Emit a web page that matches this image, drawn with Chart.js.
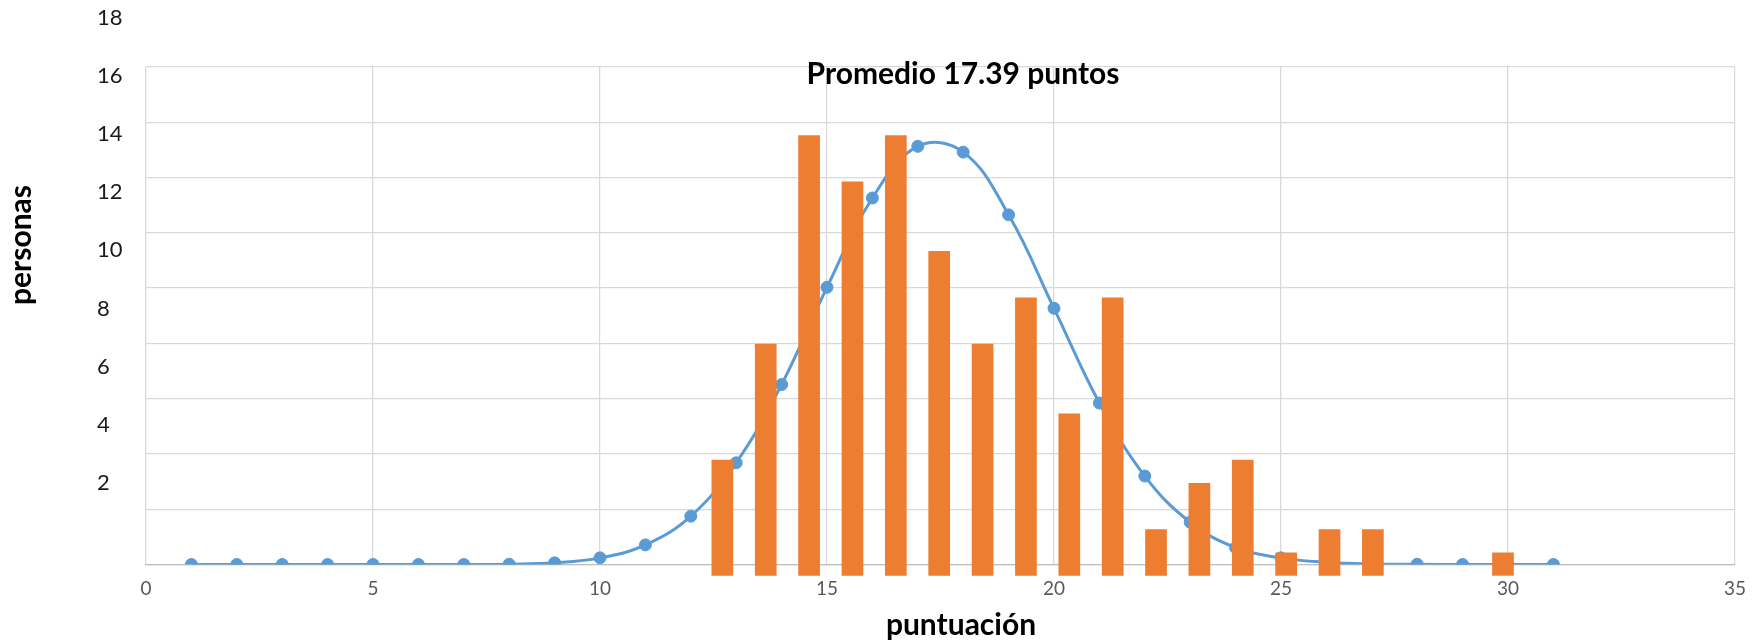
<!DOCTYPE html>
<html>
<head>
<meta charset="utf-8">
<title>Distribución de puntuaciones</title>
<script src="https://cdn.jsdelivr.net/npm/chart.js@4.4.1/dist/chart.umd.min.js"></script>
<style>
    html, body { margin: 0; padding: 0; background: #fff; }
    #wrap { width: 1763px; height: 643px; position: relative; }
</style>
</head>
<body>
<div id="wrap"><canvas id="distChart"></canvas></div>
<script>
// normal curve, one point per score
const curveScores = [1, 2, 3, 4, 5, 6, 7, 8, 9, 10, 11, 12, 13, 14, 15, 16,
    17, 18, 19, 20, 21, 22, 23, 24, 25, 26, 27, 28, 29, 30, 31];
const curveValues = [0, 0, 0, 0, 0, 0, 0, 0.0001, 0.0006, 0.0024, 0.0071, 0.0175,
    0.0368, 0.0651, 0.1003, 0.1326, 0.1513, 0.1492, 0.1265, 0.0927, 0.0584, 0.0320,
    0.0153, 0.0061, 0.0024, 0.0008, 0.0002, 0.0001, 0, 0, 0];

// people per score (histogram)
const barScores = [12, 13, 14, 15, 16, 17, 18, 19, 20, 21, 22, 23, 24, 25, 26, 27, 28, 29, 30];
const barCounts = [5, 10, 19, 17, 19, 14, 10, 12, 7, 12, 2, 4, 5, 1, 2, 2, 0, 0, 1];

// labels shown down the left side
const personTicks = [2, 4, 6, 8, 10, 12, 14, 16, 18];

const xTicks = [0, 5, 10, 15, 20, 25, 30, 35];

const BLUE = '#5B9BD5';
const ORANGE = '#ED7D31';
const GRID = '#d9d9d9';

// chart title and the two axis captions
const notes = {
    id: 'notes',
    afterDraw(chart) {
        const ctx = chart.ctx;
        ctx.save();
        ctx.fillStyle = '#000';
        ctx.textAlign = 'center';
        ctx.textBaseline = 'alphabetic';
        ctx.font = 'bold 30px Lato';
        ctx.fillText('Promedio 17.39 puntos', 963, 84);

        ctx.font = 'bold 30px Lato';
        ctx.textBaseline = 'middle';
        ctx.fillText('puntuación', 961, 625);

        ctx.translate(21, 245);
        ctx.rotate(-Math.PI / 2);
        ctx.fillText('personas', 0, 0);
        ctx.restore();
    }
};

const ctx = document.getElementById('distChart').getContext('2d');
const distChart = new Chart(ctx, {
    type: 'bar',
    data: {
        datasets: [
            {
                type: 'bar',
                label: 'personas',
                data: barScores.map((s, i) => ({ x: s, y: barCounts[i] })),
                xAxisID: 'xBar',
                yAxisID: 'yBar',
                backgroundColor: ORANGE,
                borderWidth: 0,
                grouped: false,
                barPercentage: 0.5,
                categoryPercentage: 1.0,
                clip: false,
                order: 0
            },
            {
                type: 'line',
                label: 'normal',
                data: curveScores.map((s, i) => ({ x: s, y: curveValues[i] })),
                xAxisID: 'x',
                yAxisID: 'yLine',
                borderColor: BLUE,
                backgroundColor: BLUE,
                borderWidth: 3,
                pointRadius: 6,
                pointBorderWidth: 1,
                pointBackgroundColor: BLUE,
                pointBorderColor: BLUE,
                tension: 0.4,
                fill: false,
                order: 1
            }
        ]
    },
    options: {
        responsive: true,
        maintainAspectRatio: false,
        animation: false,
        layout: {
            padding: { left: 97, right: 28, top: 67, bottom: 0 }
        },
        plugins: {
            legend: { display: false },
            tooltip: { enabled: false },
            title: { display: false }
        },
        scales: {
            x: {
                type: 'linear',
                position: 'bottom',
                offset: false,
                min: 0,
                max: 35,
                afterBuildTicks: axis => { axis.ticks = xTicks.map(v => ({ value: v })); },
                afterFit: axis => { axis.height = 78.5; },
                grid: { color: GRID, lineWidth: 1.25, drawTicks: false, offset: false },
                border: { color: '#bfbfbf', width: 1.25 },
                ticks: {
                    padding: 13,
                    color: '#595959',
                    font: { family: 'Lato', size: 19 }
                }
            },
            xBar: {
                type: 'linear',
                display: false,
                offset: false,
                min: -1.29,
                max: 35.35,
                // one tick per score keeps the bar width at half a step
                afterBuildTicks: axis => { axis.ticks = barScores.map(v => ({ value: v })); }
            },
            yLine: {
                type: 'linear',
                position: 'left',
                min: 0,
                max: 0.18,
                afterFit: axis => { axis.width = 0; },
                ticks: { display: false, stepSize: 0.02 },
                grid: { color: GRID, lineWidth: 1.25, drawTicks: false },
                border: { display: false }
            },
            yLab: {
                type: 'linear',
                position: 'left',
                min: -0.813,
                max: 16.31,
                afterBuildTicks: axis => { axis.ticks = personTicks.map(v => ({ value: v })); },
                afterFit: axis => { axis.width = 49; },
                grid: { display: false, drawTicks: false },
                border: { display: false },
                ticks: {
                    autoSkip: false,
                    crossAlign: 'far',
                    padding: 0,
                    color: '#1a1a1a',
                    font: { family: 'Lato', size: 22 },
                    callback: v => String(v)
                }
            },
            yBar: {
                type: 'linear',
                display: false,
                min: 0.483,
                max: 21.94
            }
        }
    },
    plugins: [notes]
});
</script>
</body>
</html>
